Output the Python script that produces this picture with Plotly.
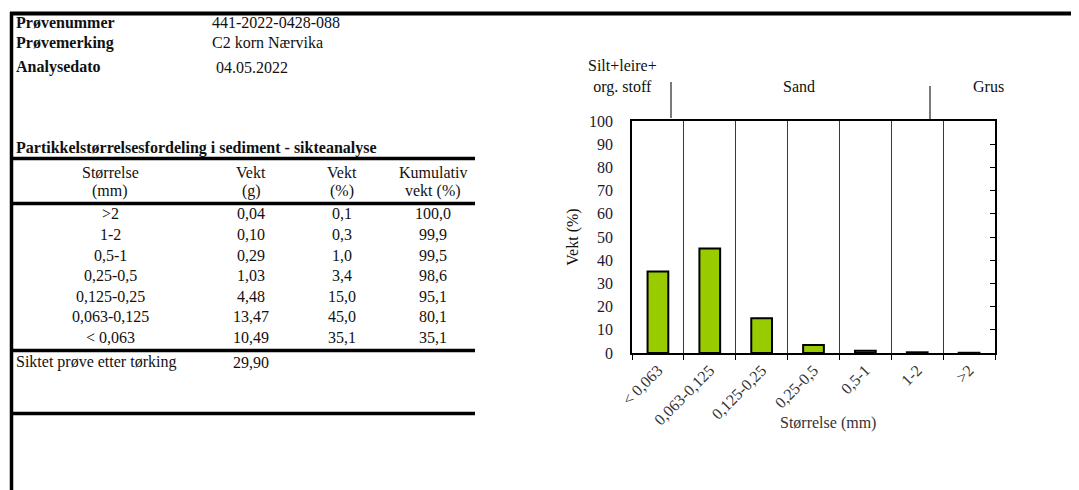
import plotly.graph_objects as go

# ---------------- data ----------------
header_labels = ["Prøvenummer", "Prøvemerking", "Analysedato"]
header_values = ["441-2022-0428-088", "C2 korn Nærvika", " 04.05.2022"]

table_title = "Partikkelstørrelsesfordeling i sediment - sikteanalyse"
col_head_1 = ["Størrelse", "Vekt", "Vekt", "Kumulativ"]
col_head_2 = ["(mm)", "(g)", "(%)", "vekt (%)"]

sizes = [">2", "1-2", "0,5-1", "0,25-0,5", "0,125-0,25", "0,063-0,125", "< 0,063"]
vekt_g = [0.04, 0.10, 0.29, 1.03, 4.48, 13.47, 10.49]
vekt_pct = [0.1, 0.3, 1.0, 3.4, 15.0, 45.0, 35.1]
kumulativ = [100.0, 99.9, 99.5, 98.6, 95.1, 80.1, 35.1]

total_label = "Siktet prøve etter tørking"
total_g = 29.90

class_labels = ["Silt+leire+<br>org. stoff", "Sand", "Grus"]
x_title = "Størrelse (mm)"
y_title = "Vekt (%)"

# chart order: finest first
chart_cats = sizes[::-1]
chart_vals = vekt_pct[::-1]

# ---------------- helpers ----------------
W, H = 1079, 490
OFF = 8  # page body margin offset
def X(p): return (p - OFF) / W
def Y(p): return 1 - (p - OFF) / H
def fmt(v, d):
    return f"{v:.{d}f}".replace(".", ",")

SERIF = "Liberation Serif"
TXT = "#111111"
FS = 16

fig = go.Figure()

fig.add_trace(go.Bar(
    x=chart_cats, y=chart_vals, width=0.4,
    marker=dict(color="#99CC00", line=dict(color="black", width=2)),
    hoverinfo="x+y", showlegend=False,
))
fig.add_trace(go.Scatter(x=[], y=[], yaxis="y2", showlegend=False, hoverinfo="skip"))

ann = []
def text(x, y, s, size=FS, bold=False, anchor="left", color=TXT):
    if bold:
        s = f"<b>{s}</b>"
    ann.append(dict(x=X(x), y=Y(y), xref="paper", yref="paper", text=s,
                    showarrow=False, xanchor=anchor, yanchor="middle",
                    font=dict(family=SERIF, size=size, color=color)))

# header block
hdr_y = [22, 43, 67]
for lab, val, yy in zip(header_labels, header_values, hdr_y):
    text(14, yy, lab, bold=True)
    text(210, yy, val)

text(14, 148, table_title, bold=True)

col_x = [110, 251, 342, 433]
for cx, h1, h2 in zip(col_x, col_head_1, col_head_2):
    text(cx, 172, h1, anchor="center")
    text(cx, 191, h2, anchor="center")

row_y = [213, 234, 255, 275, 296, 316, 337]
for i, yy in enumerate(row_y):
    text(col_x[0], yy, sizes[i], anchor="center")
    text(col_x[1], yy, fmt(vekt_g[i], 2), anchor="center")
    text(col_x[2], yy, fmt(vekt_pct[i], 1), anchor="center")
    text(col_x[3], yy, fmt(kumulativ[i], 1), anchor="center")

text(14, 362, total_label)
text(col_x[1], 362, fmt(total_g, 2), anchor="center")

# class labels above chart
ann.append(dict(x=X(622), y=Y(76), xref="paper", yref="paper", text=class_labels[0],
                showarrow=False, xanchor="center", yanchor="middle",
                font=dict(family=SERIF, size=FS, color=TXT)))
text(799, 86, class_labels[1], anchor="center")
text(988, 86, class_labels[2], anchor="center")

# x-axis title (placed beside the slanted tick labels, as in the original)
text(828, 423, x_title, anchor="center", color="#333333")

shapes = []
def hline(y, x0, x1, w=3.5, color="black"):
    shapes.append(dict(type="line", xref="paper", yref="paper", x0=X(x0), x1=X(x1),
                       y0=Y(y), y1=Y(y), line=dict(color=color, width=w)))
def vline(x, y0, y1, w=3, color="black"):
    shapes.append(dict(type="line", xref="paper", yref="paper", x0=X(x), x1=X(x),
                       y0=Y(y0), y1=Y(y1), line=dict(color=color, width=w)))

hline(13.5, 10, 1090, w=4)
vline(11.5, 12, 500, w=3.5)
for yy in [158.5, 203.5, 350.5, 413.5]:
    hline(yy, 11, 475)

vline(671, 82, 118, w=1.3, color="#333333")
vline(930, 86, 119, w=1.3, color="#333333")

fig.update_layout(
    width=W, height=H, autosize=False,
    margin=dict(l=0, r=0, t=0, b=0, pad=0, autoexpand=False),
    paper_bgcolor="white", plot_bgcolor="white",
    showlegend=False,
    annotations=ann, shapes=shapes,
    xaxis=dict(
        domain=[X(632), X(995)], type="category", tickson="boundaries",
        showgrid=True, gridcolor="#3a3a3a", gridwidth=1,
        showline=True, linecolor="black", linewidth=1.5, mirror=True,
        ticks="outside", ticklen=5, tickcolor="black", tickwidth=1.2,
        tickangle=-45, tickfont=dict(family=SERIF, size=FS, color="#333333"),
        anchor="y", zeroline=False, automargin=False,
    ),
    yaxis=dict(
        domain=[Y(353), Y(121)], range=[0, 100], dtick=10,
        showline=True, linecolor="black", linewidth=1.5, mirror=True,
        ticks="", showgrid=False, zeroline=False,
        tickfont=dict(family=SERIF, size=FS, color="#1a1a2e"),
        ticklabelstandoff=14,
        title=dict(text=y_title, font=dict(family=SERIF, size=FS, color=TXT), standoff=6),
        anchor="x", automargin=False,
    ),
    yaxis2=dict(
        overlaying="y", side="right", anchor="x", range=[0, 100], dtick=10,
        ticks="inside", ticklen=5, tickcolor="black", tickwidth=1.2,
        showticklabels=False, showgrid=False, showline=False, zeroline=False,
        automargin=False,
    ),
)

fig.write_html("out.html")
